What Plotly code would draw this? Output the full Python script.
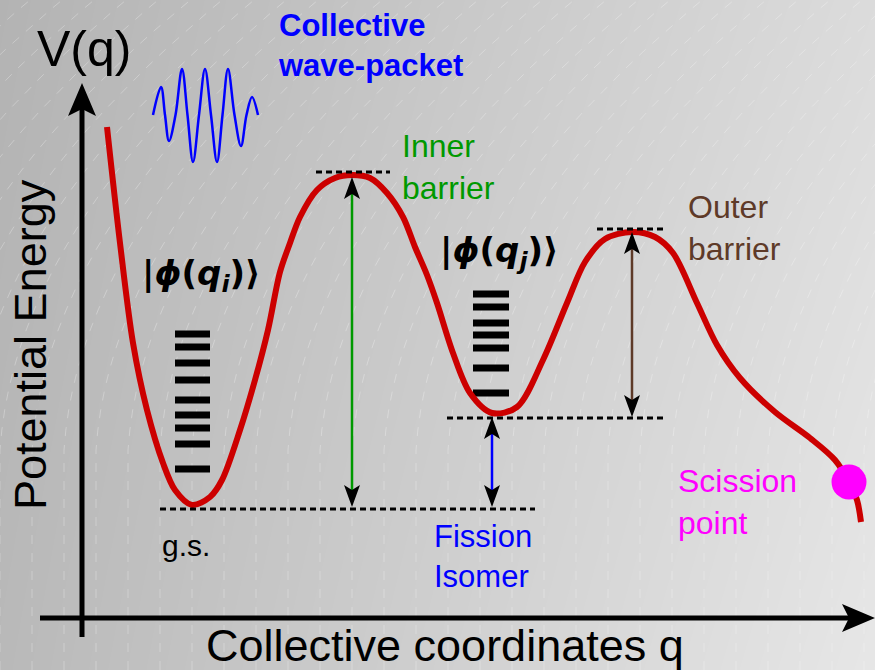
import plotly.graph_objects as go

# ---------------- data (diagram units = pixel-like coordinates) ----------------
curve_q = [107, 120, 133, 147, 163, 175, 192, 210, 222, 240, 255, 268, 280, 290, 300, 317, 335, 352,
           370, 387, 403, 415, 427, 437, 453, 470, 492, 517, 543, 567, 585, 605, 632, 655, 673, 697,
           717, 740, 775, 810, 835, 849, 857, 861]
curve_V = [127, 243, 343, 410, 463, 490, 505, 497, 480, 430, 380, 330, 272, 243, 217, 190, 178, 175,
           178, 193, 217, 247, 275, 303, 353, 393, 413, 407, 360, 303, 262, 239, 232, 237, 253, 303,
           345, 378, 412, 438, 460, 482, 500, 522]

wave_q = [153, 161, 165, 169, 175.5, 182, 187.5, 193, 199, 205, 211, 217, 222.5, 228, 234.5, 241, 246.5, 252, 258]
wave_V = [115, 87, 115, 141, 115, 69, 115, 162, 115, 69, 115, 162, 115, 69, 115, 146, 115, 97, 115]

levels_i = [334, 347, 363, 380, 400, 415, 428, 444, 469]
levels_j = [294, 307, 323, 335, 348, 368, 393]
levels_i_span = (175, 210)
levels_j_span = (473, 509)

# dashed reference levels: (y, x0, x1)
ref_levels = [(509, 160, 535), (172, 316, 390), (418, 447, 663), (229, 597, 667)]

# double arrows: x, top, bottom, colour
arrow_x = [352, 492, 632]
arrow_top = [177, 417, 232]
arrow_bot = [507, 507, 417]
arrow_col = ["#009900", "#0000ff", "#5e3a28"]

scission = (849, 482)

FONT = "Liberation Sans, Arial, sans-serif"

fig = go.Figure()

# background gradient
fig.add_trace(go.Heatmap(
    x=[-20, 895], y=[-20, 690], z=[[178, 220], [184, 232]],
    zmin=178, zmax=232, zsmooth="best", showscale=False, hoverinfo="skip",
    colorscale=[[0, "rgb(178,178,178)"], [1, "rgb(232,232,232)"]]))

# faint texture streaks (decoration, drawn right above the background)
tx, ty = [], []
for k in range(-8, 30):
    x0 = k * 32.0
    for i in range(0, 36):
        y = 670 - i * 20
        h = max(0.0, (450 - y)) / 450.0
        tx.append(x0 + 256 * h * h + 30 * h)
        ty.append(y)
    tx.append(None)
    ty.append(None)
fig.add_trace(go.Scatter(x=tx, y=ty, mode="lines", hoverinfo="skip", showlegend=False,
                         line=dict(color="rgba(255,255,255,0.28)", width=1, dash="dash")))

shapes = []
# axes
shapes.append(dict(type="line", x0=82, x1=82, y0=637, y1=108, line=dict(color="black", width=5)))
shapes.append(dict(type="line", x0=40, x1=850, y0=618, y1=618, line=dict(color="black", width=5)))
shapes.append(dict(type="path", path="M 82,83 L 68,116 L 82,109 L 96,116 Z",
                   fillcolor="black", line=dict(width=0)))
shapes.append(dict(type="path", path="M 875,618 L 842,604 L 849,618 L 842,632 Z",
                   fillcolor="black", line=dict(width=0)))

# dashed reference levels
for y, xa, xb in ref_levels:
    shapes.append(dict(type="line", x0=xa, x1=xb, y0=y, y1=y,
                       line=dict(color="black", width=3, dash="6px,4px")))

# double arrows
hl, hw = 22, 8
for x, t, b, c in zip(arrow_x, arrow_top, arrow_bot, arrow_col):
    shapes.append(dict(type="line", x0=x, x1=x, y0=t + 10, y1=b - 10, line=dict(color=c, width=2.5)))
    shapes.append(dict(type="path",
                       path=f"M {x},{t} L {x-hw},{t+hl} L {x},{t+hl-5} L {x+hw},{t+hl} Z",
                       fillcolor="black", line=dict(width=0)))
    shapes.append(dict(type="path",
                       path=f"M {x},{b} L {x-hw},{b-hl} L {x},{b-hl+5} L {x+hw},{b-hl} Z",
                       fillcolor="black", line=dict(width=0)))

# energy levels
def seg(levels, span):
    xs, ys = [], []
    for y in levels:
        xs += [span[0], span[1], None]
        ys += [y, y, None]
    return xs, ys

for lv, sp in ((levels_i, levels_i_span), (levels_j, levels_j_span)):
    xs, ys = seg(lv, sp)
    fig.add_trace(go.Scatter(x=xs, y=ys, mode="lines", line=dict(color="black", width=7),
                             hoverinfo="skip", showlegend=False))

# potential curve
fig.add_trace(go.Scatter(x=curve_q, y=curve_V, mode="lines",
                         line=dict(color="#cc0000", width=6, shape="spline", smoothing=0.9),
                         hoverinfo="skip", showlegend=False))
# wave packet
fig.add_trace(go.Scatter(x=wave_q, y=wave_V, mode="lines",
                         line=dict(color="#0000ff", width=2.5, shape="spline", smoothing=1.0),
                         hoverinfo="skip", showlegend=False))
# scission point
fig.add_trace(go.Scatter(x=[scission[0]], y=[scission[1]], mode="markers",
                         marker=dict(color="#ff00ff", size=35), hoverinfo="skip", showlegend=False))

ann = []
def txt(x, y, t, size, color="black", xanchor="center", family=FONT):
    ann.append(dict(x=x, y=y, xref="x", yref="y", text=t, showarrow=False,
                    xanchor=xanchor, yanchor="middle", align="left" if xanchor == "left" else "center",
                    font=dict(size=size, color=color, family=family)))

txt(84, 49, "V(q)", 50)
txt(445, 645, "Collective coordinates q", 45)
ann.append(dict(x=30, y=345, xref="x", yref="y", text="Potential Energy", showarrow=False,
                textangle=-90, font=dict(size=45, color="black", family=FONT)))
txt(276, 45, "<b>Collective<br>wave-packet</b>", 31, "#0000ff", xanchor="left")
txt(400, 167, "Inner<br>barrier", 32, "#009900", xanchor="left")
txt(686, 228, "Outer<br>barrier", 32, "#5e3a28", xanchor="left")
txt(432, 556, "Fission<br>Isomer", 31, "#0000ff", xanchor="left")
txt(676, 502, "Scission<br>point", 32, "#ff00ff", xanchor="left")
txt(186, 545, "g.s.", 30)
phi_font = "DejaVu Sans, sans-serif"
txt(201, 275, "<b>|<i>ϕ</i>(<i>q</i><sub><i>i</i></sub>)⟩</b>", 34, family=phi_font)
txt(499, 252, "<b>|<i>ϕ</i>(<i>q</i><sub><i>j</i></sub>)⟩</b>", 34, family=phi_font)

fig.update_layout(
    width=875, height=670, margin=dict(l=0, r=0, t=0, b=0),
    paper_bgcolor="rgb(200,200,200)", plot_bgcolor="rgba(0,0,0,0)",
    xaxis=dict(range=[0, 875], visible=False, fixedrange=True),
    yaxis=dict(range=[670, 0], visible=False, fixedrange=True),
    shapes=shapes, annotations=ann, showlegend=False)

fig.write_html("out.html")
